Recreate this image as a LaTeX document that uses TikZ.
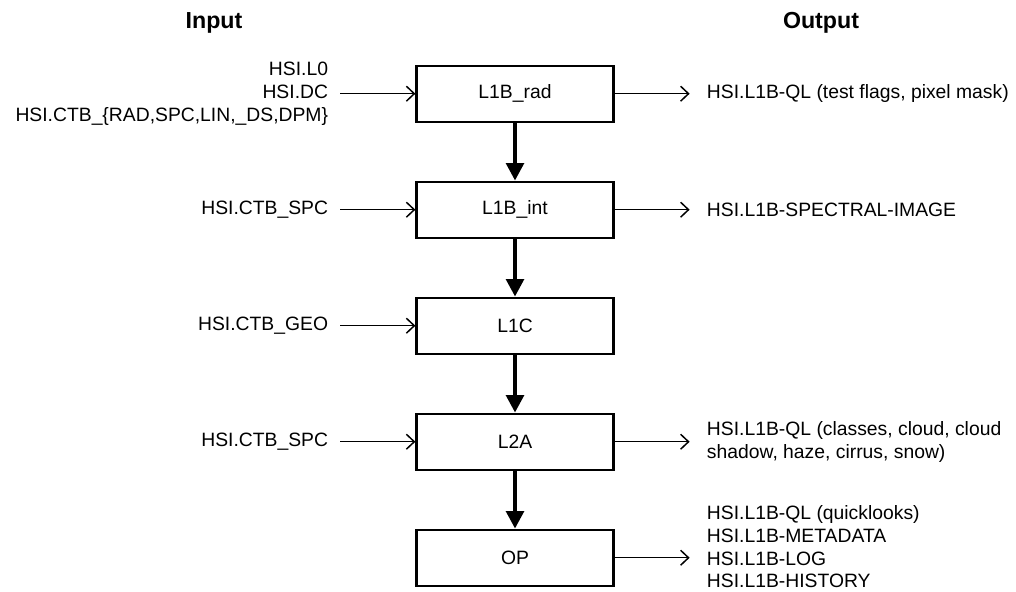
\documentclass[tikz,border=0pt]{standalone}
\usepackage{fontspec}
\setmainfont{Liberation Sans}
\usetikzlibrary{positioning,arrows.meta}
\tikzset{%
  stage/.style = {shape=rectangle, draw, line width=1.3pt,%
                  minimum width=3.94cm, minimum height=1.12cm},%
  feed/.style  = {align=right, inner xsep=0.24cm, inner ysep=0pt},%
  prod/.style  = {align=left, inner xsep=0.34cm, inner ysep=0pt},%
  flow/.style  = {line width=2.3pt, -{Triangle[length=10pt,width=10pt]}},%
  data/.style  = {line width=0.85pt, -{Straight Barb[length=4.5pt,width=8.5pt]}},%
  head/.style  = {font=\fontsize{13.2}{16}\selectfont\bfseries}%
}

\begin{document}
\begin{tikzpicture}[x=0.02cm, y=-0.02cm, every node/.style = {font=\fontsize{11}{13}\selectfont}]%
	\useasboundingbox (0,0) rectangle (1016,591);
	\node [head] (inhead) at (214,23) {Input};
	\node [head] (outhead) at (821,23) {Output};
	% processing chain
	\node [stage] (rad) at (515,93.7) {L1B\_rad};
	\node [stage, below=1.155cm of rad] (int) {L1B\_int};
	\node [stage, below=1.155cm of int] (l1c) {L1C};
	\node [stage, below=1.155cm of l1c] (l2a) {L2A};
	\node [stage, below=1.155cm of l2a] (op) {OP};
	\foreach \a/\b in {rad/int, int/l1c, l1c/l2a, l2a/op}
		\draw [flow] (\a) -- (\b);
	% inputs
	\node [feed, left=1.5cm of rad] (radin) {HSI.L0\\HSI.DC\\HSI.CTB\_\{RAD,SPC,LIN,\_DS,DPM\}};
	\node [feed, left=1.5cm of int] (intin) {HSI.CTB\_SPC};
	\node [feed, left=1.5cm of l1c] (l1cin) {HSI.CTB\_GEO};
	\node [feed, left=1.5cm of l2a] (l2ain) {HSI.CTB\_SPC};
	\foreach \s in {rad, int, l1c, l2a}
		\draw [data] (\s in) -- (\s);
	% outputs
	\node [prod, right=1.5cm of rad] (radout) {HSI.L1B-QL (test flags, pixel mask)};
	\node [prod, right=1.5cm of int] (intout) {HSI.L1B-SPECTRAL-IMAGE};
	\node [prod, right=1.5cm of l2a] (l2aout) {HSI.L1B-QL (classes, cloud, cloud\\shadow, haze, cirrus, snow)};
	\node [prod, right=1.5cm of op, yshift=0.22cm] (opout) {HSI.L1B-QL (quicklooks)\\HSI.L1B-METADATA\\HSI.L1B-LOG\\HSI.L1B-HISTORY};
	\foreach \s in {rad, int, l2a}
		\draw [data] (\s) -- (\s out);
	\draw [data] (op.east) -- (op.east -| opout.west);
\end{tikzpicture}
\end{document}
